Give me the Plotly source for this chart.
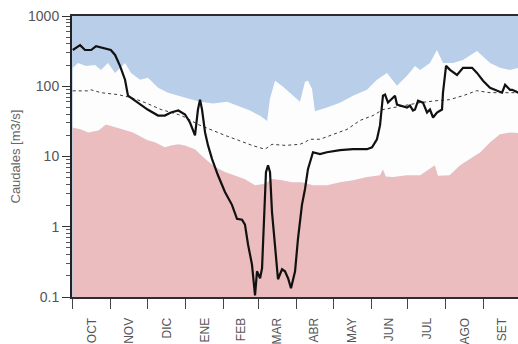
import numpy as np
import plotly.graph_objects as go

# Hydrological year, day 0 = 1 October
month_names = ["OCT", "NOV", "DIC", "ENE", "FEB", "MAR", "ABR", "MAY", "JUN", "JUL", "AGO", "SET"]
month_days = [31, 30, 31, 31, 28, 31, 30, 31, 30, 31, 31, 30]

# Lower limit of the normal range (top of the red zone), m3/s
lower_day = [0, 7, 12.5, 21, 27, 34.5, 41, 49, 56, 61, 67, 75, 80, 86, 91.5, 99.6, 108, 116, 124,
             132, 140, 148.5, 156.6, 162.3, 170.5, 178.6, 186.7, 195.7, 207, 217.7, 228.3, 239.7,
             250.3, 252.7, 255, 261, 272, 283, 295, 297.5, 307, 315.5, 323.6, 332, 340, 348, 356, 363]
lower_val = [25.9, 24.3, 22.0, 23.5, 28.6, 25.9, 24.3, 22.0, 18.7, 17.0, 15.9, 13.5, 14.4, 14.9,
             14.4, 12.7, 9.2, 7.1, 6.0, 5.4, 4.8, 3.9, 4.1, 4.8, 4.6, 4.3, 4.3, 3.9, 3.9, 4.3, 4.6,
             5.1, 5.4, 6.6, 5.2, 5.1, 5.4, 5.4, 7.5, 5.3, 5.4, 7.5, 9.2, 11.5, 15.9, 20.7, 22.0, 21.6]

# Upper limit of the normal range (bottom of the blue zone), m3/s
upper_day = [0, 4.3, 10.8, 18.2, 23, 28.7, 34.5, 42.6, 47.5, 54.8, 61.3, 69.5, 77.6, 85.8, 93.9,
             103.7, 114.3, 125.7, 133.8, 144.4, 152.6, 158.3, 160.7, 164.8, 171.3, 179.4, 185.1,
             189.2, 191.6, 194.9, 197.3, 207.1, 217.7, 228.3, 239.7, 247.8, 256, 264.1, 272.3,
             278.8, 283, 291, 296.7, 301.6, 309.8, 317.9, 329.3, 340, 348, 356, 363]
upper_val = [183, 215, 195, 201, 171, 215, 155, 215, 155, 124, 132, 95, 81, 73, 67, 60, 57, 60, 53,
             45, 38, 32, 67, 120, 98, 73, 60, 116, 120, 92, 44, 50, 58, 73, 89, 124, 155, 102, 141,
             195, 171, 215, 328, 215, 215, 237, 317, 215, 183, 171, 183]

# Median daily flow, m3/s
median_day = [0, 12.5, 15, 23, 37, 47.5, 59, 72, 86, 92, 102, 113.5, 124, 135, 146, 156.6, 162.3,
              173, 181, 185, 189, 193, 201.4, 212, 223.4, 234, 244.6, 252.7, 261, 272, 283, 296.7,
              307, 318, 329, 340, 350, 363]
median_val = [86, 86, 89, 81, 76, 69, 58.5, 46.6, 39.6, 35.9, 28.6, 23.5, 20.0, 17.0, 14.4, 12.7,
              14.9, 14.4, 14.9, 14.9, 15.9, 17.6, 17.6, 20.7, 24.3, 32.6, 38.3, 46.6, 49.7, 53.1,
              58.5, 62.4, 64.5, 73.4, 86.4, 81, 81, 81]

# Observed daily flow, m3/s
obs_day = [0, 6, 10, 15, 19, 26, 31, 34.5, 38.5, 42.6, 45, 53, 61, 69.5, 75, 80, 86, 91.5, 95.5,
           99.6, 102, 103.7, 105.3, 107.8, 110.2, 113.5, 118.3, 124, 129.7, 133.8, 137.9, 140.3,
           142.8, 146, 146.9, 148.5, 150.1, 152.6, 154.2, 155.8, 157.4, 159.1, 160.7, 162.3,
           164.8, 166.4, 167.2, 170.5, 172.9, 175.4, 177.8, 181.1, 183.5, 186.7, 189.2, 191.6,
           195.7, 201.4, 207, 217.7, 228.3, 239.7, 243.8, 247.8, 250.3, 252.7, 254.4, 256.8,
           262.5, 264.1, 272.3, 274.7, 277.2, 278.8, 281.3, 285.3, 288.6, 291, 293.5, 296.7,
           300.8, 301.6, 304.1, 307.3, 313, 317.9, 325.3, 329.3, 334.2, 339.9, 345.6, 349.7,
           352.2, 356.2, 358, 363]
obs_val = [328, 385, 328, 328, 373, 350, 328, 279, 195, 124, 73.4, 58.5, 46.6, 38.3, 38.3, 42.3,
           45.1, 39.6, 30.5, 20.0, 46.6, 64.5, 46.6, 22.0, 14.4, 9.2, 5.4, 3.13, 2.05, 1.30, 1.26,
           1.07, 0.56, 0.29, 0.19, 0.105, 0.232, 0.185, 0.256, 1.63, 6.0, 7.5, 6.0, 1.63, 0.56,
           0.232, 0.179, 0.248, 0.232, 0.185, 0.133, 0.232, 0.68, 2.05, 3.45, 6.6, 11.5, 10.8,
           11.5, 12.3, 12.7, 12.7, 13.5, 17.6, 27.7, 73.4, 76, 58.5, 73.4, 54.8, 49.7, 53.1,
           45.1, 46.6, 62.4, 58.5, 42.3, 46.6, 35.9, 42.3, 46.6, 81, 195, 171, 145, 183, 183,
           155, 120, 95, 86.4, 81, 105, 89, 89, 81]

# Y-axis ticks
y_major = [0.1, 1, 10, 100, 1000]
y_major_text = ["0.1", "1", "10", "100", "1000"]

BLUE = "#b9cfe9"
PINK = "#ecbdbe"
WHITE = "#fdfdfd"

starts = np.concatenate([[0], np.cumsum(month_days)[:-1]])
mids = starts + np.array(month_days) / 2.0
y_minor = [m * 10.0 ** e for e in range(-1, 3) for m in range(2, 10)]

fig = go.Figure()

# Red zone from the axis floor up to the lower limit
fig.add_trace(go.Scatter(x=[lower_day[0], lower_day[-1]], y=[y_major[0], y_major[0]], mode="lines",
                         line=dict(width=0), hoverinfo="skip", showlegend=False))
fig.add_trace(go.Scatter(x=lower_day, y=lower_val, mode="lines", fill="tonexty", fillcolor=PINK,
                         line=dict(width=0, color=PINK), hoverinfo="skip", showlegend=False))
# Normal range between lower and upper limit
fig.add_trace(go.Scatter(x=upper_day, y=upper_val, mode="lines", fill="tonexty", fillcolor=WHITE,
                         line=dict(width=0, color=WHITE), hoverinfo="skip", showlegend=False))
# Median
fig.add_trace(go.Scatter(x=median_day, y=median_val, mode="lines",
                         line=dict(color="#3a3a3a", width=1, dash="dot"), showlegend=False))
# Observed flow
fig.add_trace(go.Scatter(x=obs_day, y=obs_val, mode="lines",
                         line=dict(color="#111111", width=2.2), showlegend=False))

font_family = "Liberation Sans, Arial, sans-serif"

fig.update_layout(
    width=518, height=344,
    margin=dict(l=72, r=0, t=16, b=44),
    paper_bgcolor="white",
    plot_bgcolor=BLUE,
    font=dict(family=font_family, color="#555555"),
    showlegend=False,
    xaxis=dict(
        range=[-0.6, 362.7],
        tickmode="array", tickvals=mids, ticktext=month_names,
        tickangle=-90, ticks="", ticklabelstandoff=14,
        tickfont=dict(size=12, color="#555555"),
        showline=True, linecolor="#2a2e33", linewidth=2, mirror=True,
        showgrid=False, zeroline=False,
        minor=dict(tickmode="array", tickvals=starts, ticks="outside", ticklen=10,
                   tickwidth=1, tickcolor="#444444", showgrid=False),
    ),
    yaxis=dict(
        type="log", range=[-1, 3],
        tickmode="array", tickvals=y_major, ticktext=y_major_text,
        ticks="outside", ticklen=8, tickwidth=1, tickcolor="#333333",
        tickfont=dict(size=14, color="#555555"),
        showline=True, linecolor="#222222", linewidth=2,
        showgrid=False, zeroline=False,
        minor=dict(tickmode="array", tickvals=y_minor, ticks="outside", ticklen=4,
                   tickwidth=1, tickcolor="#555555", showgrid=False),
    ),
    annotations=[dict(
        text="Caudales [m3/s]", textangle=-90,
        xref="paper", yref="paper", x=-57 / 446, y=0.5,
        xanchor="center", yanchor="middle", showarrow=False,
        font=dict(size=13, color="#666666", family=font_family),
    )],
)

fig.write_html("out.html")
